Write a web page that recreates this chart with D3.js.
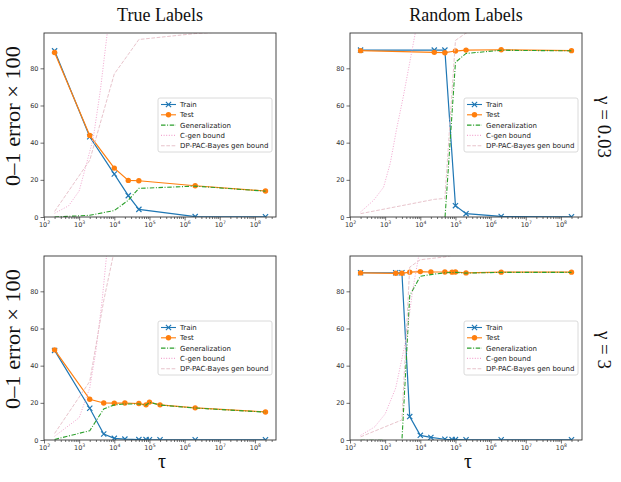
<!DOCTYPE html>
<html><head><meta charset="utf-8">
<script src="https://cdn.jsdelivr.net/npm/d3@7"></script>
<style>body{margin:0;background:#fff}</style>
</head><body>
<svg id="c" width="621" height="482"></svg>
<script>
// ---------- data ----------
const colTitles = ["True Labels", "Random Labels"];
const rowLabels = ["\u03b3 = 0.03", "\u03b3 = 3"];
const yLabel = "0\u20131 error \u00d7 100";
const xLabel = "\u03c4";
const seriesNames = ["Train", "Test", "Generalization", "C-gen bound", "DP-PAC-Bayes gen bound"];
const yTicks = [0, 20, 40, 60, 80];
const xTickExps = [2, 3, 4, 5, 6, 7, 8];

// True labels, gamma = 0.03
const tauTL   = [2e2, 2e3, 1e4, 2.5e4, 5e4, 2e6, 2e8];
const trainTL = [89.4, 43.2, 23.1, 11.5, 4.1, 0.2, 0.1];
const testTL  = [88.5, 43.9, 26.3, 19.7, 19.5, 16.8, 14.0];
const genTL   = [0.0, 0.9, 3.5, 9.0, 15.4, 16.6, 13.9];
const cgenTauTL = [2e2, 5e2, 1e3, 2.5e3, 4e3, 6.3e3, 1e4];
const cgenTL    = [2, 6, 14, 42, 68, 99, 140];
const dpTauTL = [2e2, 2e3, 1e4, 2.5e4, 5e4, 2e6, 2e8];
const dpTL    = [3, 30.5, 77, 87.5, 95.5, 98.7, 101];

// Random labels, gamma = 0.03
const tauTR   = [2e2, 2.5e4, 5e4, 1e5, 2e5, 2e6, 2e8];
const trainTR = [89.8, 89.8, 89.8, 6.1, 1.8, 0.3, 0.1];
const testTR  = [89.5, 88.6, 88.4, 89.3, 89.8, 90.0, 89.5];
const genTR   = [-0.3, -1.2, -1.4, 83.2, 88.0, 89.7, 89.4];
const cgenTauTR = [2e2, 4.7e2, 9e2, 1.4e3, 2.1e3, 3.3e3, 5.1e3, 7.2e3, 1e4];
const cgenTR    = [2.7, 9, 16, 29, 47, 65, 84, 99, 115];
const dpTauTR = [2e2, 2.5e4, 5e4, 1e5, 2e5, 2e6, 2e8];
const dpTR    = [1.8, 9.5, 10, 95, 99, 101, 101];

// True labels, gamma = 3
const tauBL   = [2e2, 2e3, 5e3, 1e4, 2e4, 5e4, 8e4, 1e5, 2e5, 2e6, 2e8];
const trainBL = [48.2, 17.1, 3.2, 0.9, 0.5, 0.2, 0.2, 0.1, 0.1, 0.1, 0.1];
const testBL  = [48.5, 21.9, 19.9, 19.8, 19.9, 19.6, 18.9, 20.4, 18.9, 17.3, 15.1];
const genBL   = [0.3, 5.0, 16.7, 18.9, 19.4, 19.4, 18.7, 20.3, 18.8, 17.2, 15.0];
const cgenTauBL = [2e2, 1e3, 2e3, 3e3, 4.5e3, 6e3, 8e3];
const cgenBL    = [2, 12, 28, 48, 75, 99, 125];
const dpTauBL = [2e2, 2e3, 5e3, 1e4];
const dpBL    = [3.5, 31.5, 75, 102];

// Random labels, gamma = 3
const tauBR   = [2e2, 2e3, 3e3, 5e3, 1e4, 2e4, 5e4, 8e4, 1e5, 2e5, 2e6, 2e8];
const trainBR = [90.0, 90.0, 90.0, 12.6, 2.5, 1.4, 0.4, 0.2, 0.2, 0.1, 0.1, 0.1];
const testBR  = [89.9, 89.7, 89.7, 90.3, 90.6, 90.4, 90.4, 90.3, 90.4, 89.9, 90.3, 90.3];
const genBR   = [-0.1, -0.3, -0.3, 77.7, 88.1, 89.0, 90.0, 90.1, 90.2, 89.8, 90.2, 90.2];
const cgenTauBR = [2e2, 5e2, 1e3, 2e3, 4e3, 6e3, 9e3];
const cgenBR    = [2.5, 7, 14, 28, 55, 80, 99];
const dpTauBR = [2e2, 3e3, 5e3, 1e4, 5e4, 2e5];
const dpBR    = [1.7, 10.8, 93, 97, 98.5, 101];

// ---------- layout ----------
const svg = d3.select("#c");
const cols = [{x0: 44, x1: 276}, {x0: 350, x1: 582}];
const rows = [{y0: 33, y1: 217}, {y0: 256, y1: 440}];
const colors = {train: "#1f77b4", test: "#ff7f0e", gen: "#2ca02c", cgen: "#f2a6cf", dp: "#e8c4cc"};
const tickFont = "'DejaVu Sans', sans-serif";
const serif = "'Liberation Serif', 'Times New Roman', serif";

const panels = [
  {c: 0, r: 0, tau: tauTL, train: trainTL, test: testTL, gen: genTL, cT: cgenTauTL, cV: cgenTL, dT: dpTauTL, dV: dpTL},
  {c: 1, r: 0, tau: tauTR, train: trainTR, test: testTR, gen: genTR, cT: cgenTauTR, cV: cgenTR, dT: dpTauTR, dV: dpTR},
  {c: 0, r: 1, tau: tauBL, train: trainBL, test: testBL, gen: genBL, cT: cgenTauBL, cV: cgenBL, dT: dpTauBL, dV: dpBL},
  {c: 1, r: 1, tau: tauBR, train: trainBR, test: testBR, gen: genBR, cT: cgenTauBR, cV: cgenBR, dT: dpTauBR, dV: dpBR}
];

const minorTicks = [];
for (let e = 2; e <= 8; e++) for (let m = 2; m <= 9; m++) { const v = m * Math.pow(10, e); if (v < Math.pow(10, 8.6)) minorTicks.push(v); }

const xMark = "M-2.6,-2.6L2.6,2.6M-2.6,2.6L2.6,-2.6";

panels.forEach((p, i) => {
  const {x0, x1} = cols[p.c], {y0, y1} = rows[p.r];
  const x = d3.scaleLog().domain([Math.pow(10, 2), Math.pow(10, 8.6)]).range([x0, x1]);
  const y = d3.scaleLinear().domain([0, 99]).range([y1, y0]);
  const g = svg.append("g");
  const cid = "clip" + i;
  svg.append("clipPath").attr("id", cid).append("rect")
    .attr("x", x0).attr("y", y0).attr("width", x1 - x0).attr("height", y1 - y0);

  // axes
  const xa = g.append("g").attr("transform", `translate(0,${y1})`)
    .call(d3.axisBottom(x).tickValues(xTickExps.map(e => Math.pow(10, e))).tickSize(3.5).tickPadding(1.5).tickFormat(""));
  xa.selectAll(".tick").each(function(d) {
    const t = d3.select(this).select("text");
    t.attr("font-family", tickFont).attr("font-size", 6.5).attr("fill", "#333");
    t.append("tspan").text("10");
    t.append("tspan").attr("dy", -2.5).attr("font-size", 4.6).text(Math.round(Math.log10(d)));
  });
  g.append("g").attr("transform", `translate(0,${y1})`)
    .call(d3.axisBottom(x).tickValues(minorTicks).tickSize(2).tickFormat(""))
    .call(s => s.select(".domain").remove());
  const ya = g.append("g").attr("transform", `translate(${x0},0)`)
    .call(d3.axisLeft(y).tickValues(yTicks).tickSize(3.5).tickPadding(2));
  ya.selectAll("text").attr("font-family", tickFont).attr("font-size", 6.5).attr("fill", "#333");
  g.selectAll(".domain").remove();
  g.selectAll(".tick line").attr("stroke", "#333").attr("stroke-width", 0.7);

  const pg = g.append("g").attr("clip-path", `url(#${cid})`);
  const line = d3.line().x(d => x(d[0])).y(d => y(d[1]));
  const zip = (a, b) => a.map((v, k) => [v, b[k]]);

  // Train
  pg.append("path").attr("d", line(zip(p.tau, p.train))).attr("fill", "none")
    .attr("stroke", colors.train).attr("stroke-width", 1.2);
  pg.selectAll(".mtr").data(zip(p.tau, p.train)).join("path").attr("class", "mtr").attr("d", xMark)
    .attr("transform", d => `translate(${x(d[0])},${y(d[1])})`)
    .attr("stroke", colors.train).attr("stroke-width", 1.15).attr("fill", "none");
  // Test
  pg.append("path").attr("d", line(zip(p.tau, p.test))).attr("fill", "none")
    .attr("stroke", colors.test).attr("stroke-width", 1.2);
  pg.selectAll(".mte").data(zip(p.tau, p.test)).join("circle").attr("class", "mte")
    .attr("cx", d => x(d[0])).attr("cy", d => y(d[1])).attr("r", 2.7).attr("fill", colors.test);
  // Generalization
  pg.append("path").attr("d", line(zip(p.tau, p.gen))).attr("fill", "none")
    .attr("stroke", colors.gen).attr("stroke-width", 1.1).attr("stroke-dasharray", "4.5,1.6,1,1.6");
  // C-gen bound
  pg.append("path").attr("d", line(zip(p.cT, p.cV))).attr("fill", "none")
    .attr("stroke", colors.cgen).attr("stroke-width", 1).attr("stroke-dasharray", "1,1.6");
  // DP-PAC-Bayes
  pg.append("path").attr("d", line(zip(p.dT, p.dV))).attr("fill", "none")
    .attr("stroke", colors.dp).attr("stroke-width", 1).attr("stroke-dasharray", "3.7,1.6");

  // frame
  g.append("rect").attr("x", x0).attr("y", y0).attr("width", x1 - x0).attr("height", y1 - y0)
    .attr("fill", "none").attr("stroke", "#333").attr("stroke-width", 0.9);

  // legend (center right)
  const lw = 114, lh = 54;
  const lx = x1 - 4 - lw, ly = (y0 + y1) / 2 - lh / 2;
  const lg = g.append("g");
  lg.append("rect").attr("x", lx).attr("y", ly).attr("width", lw).attr("height", lh).attr("rx", 2)
    .attr("fill", "#fff").attr("fill-opacity", 0.8).attr("stroke", "#d0d0d0").attr("stroke-width", 0.8);
  const styles = [
    {c: colors.train, dash: null, m: "x"},
    {c: colors.test, dash: null, m: "o"},
    {c: colors.gen, dash: "4.5,1.6,1,1.6"},
    {c: colors.cgen, dash: "1,1.6"},
    {c: colors.dp, dash: "3.7,1.6"}
  ];
  seriesNames.forEach((name, k) => {
    const yy = ly + 6.5 + k * 10.3;
    const st = styles[k];
    lg.append("line").attr("x1", lx + 3).attr("x2", lx + 18).attr("y1", yy).attr("y2", yy)
      .attr("stroke", st.c).attr("stroke-width", 1.1).attr("stroke-dasharray", st.dash);
    if (st.m === "x") lg.append("path").attr("d", xMark).attr("transform", `translate(${lx + 10.5},${yy})`)
      .attr("stroke", st.c).attr("stroke-width", 1.15).attr("fill", "none");
    if (st.m === "o") lg.append("circle").attr("cx", lx + 10.5).attr("cy", yy).attr("r", 2.7).attr("fill", st.c);
    lg.append("text").attr("x", lx + 22).attr("y", yy + 2.4).text(name)
      .attr("font-family", tickFont).attr("font-size", 7).attr("fill", "#222");
  });
});

// titles and labels
cols.forEach((c, k) => {
  svg.append("text").attr("x", (c.x0 + c.x1) / 2).attr("y", 21).attr("text-anchor", "middle")
    .attr("font-family", serif).attr("font-size", 18).attr("fill", "#111").text(colTitles[k]);
  svg.append("text").attr("x", (c.x0 + c.x1) / 2 + 2).attr("y", 468).attr("text-anchor", "middle")
    .attr("font-family", serif).attr("font-size", 20).attr("fill", "#111").text(xLabel);
});
rows.forEach((r, k) => {
  const cy = (r.y0 + r.y1) / 2;
  svg.append("text").attr("transform", `translate(20,${cy - 9}) rotate(-90)`).attr("text-anchor", "middle")
    .attr("font-family", serif).attr("font-size", 20).attr("fill", "#111")
    .attr("textLength", 140).attr("lengthAdjust", "spacingAndGlyphs").text(yLabel);
  svg.append("text").attr("transform", `translate(598,${cy + 2}) rotate(90)`).attr("text-anchor", "middle")
    .attr("font-family", serif).attr("font-size", 19).attr("fill", "#111").text(rowLabels[k]);
});
</script>
</body></html>
